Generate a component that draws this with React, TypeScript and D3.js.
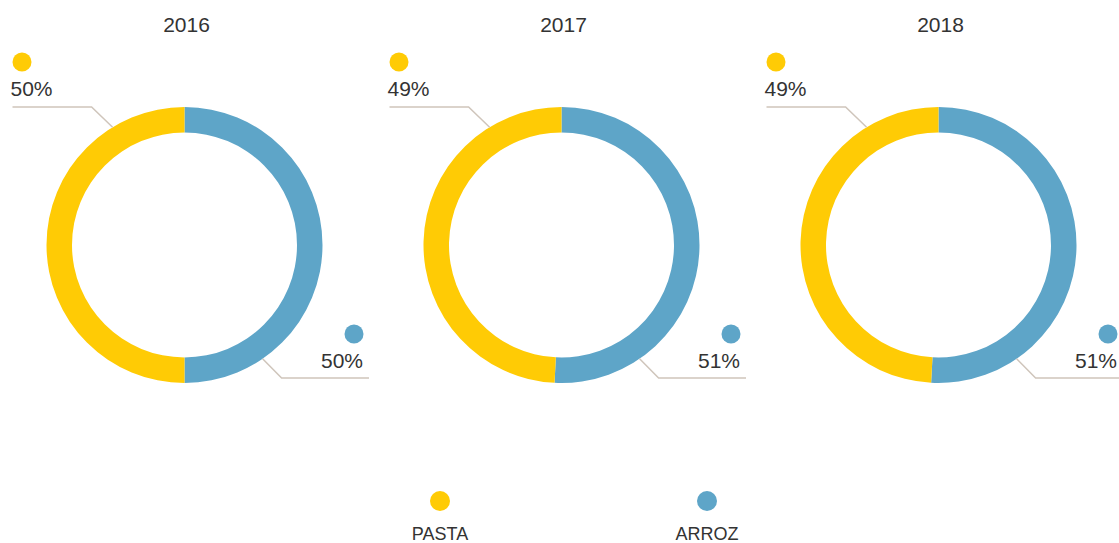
import React from "react";
import * as d3 from "d3";

const years = ["2016", "2017", "2018"];
const categories = ["ARROZ", "PASTA"];
const arrozValues = [50, 50.8, 50.85];
const pastaValues = [50, 49.2, 49.15];
const colors = { ARROZ: "#5ea5c8", PASTA: "#ffcb05" };

const W = 1119;
const H = 543;

export default function App() {
  const xCenter = d3.scalePoint<string>().domain(years).range([184.5, 938.5]);
  const cy = 245;
  const rOuter = 138;
  const rInner = 112.5;
  const arc = d3.arc<d3.PieArcDatum<number>>().innerRadius(rInner).outerRadius(rOuter);
  const pie = d3.pie<number>().sort(null);
  const legendX = d3.scalePoint<string>().domain(["PASTA", "ARROZ"]).range([440, 707]);
  const textColor = "#333333";
  const lineColor = "#cfc5bb";
  const font = "'Liberation Sans', Arial, Helvetica, sans-serif";

  // label anchor angles (radians clockwise from 12 o'clock)
  const pastaAnchor = -0.548;
  const arrozAnchor = 2.54;
  const pt = (a: number, r: number) => [Math.sin(a) * r, -Math.cos(a) * r];

  return (
    <svg width={W} height={H} style={{ position: "absolute", left: 0, top: 0, background: "#fff" }} fontFamily={font}>
      {years.map((y, i) => {
        const cx = xCenter(y)!;
        const arcs = pie([arrozValues[i], pastaValues[i]]);
        const pa = pt(pastaAnchor, rOuter);
        const aa = pt(arrozAnchor, rOuter);
        return (
          <g key={y}>
            <text x={cx + 2} y={32} textAnchor="middle" fontSize={21} fill={textColor}>{y}</text>
            <g transform={`translate(${cx},${cy})`}>
              {arcs.map((a, j) => (
                <path key={j} d={arc(a)!} fill={colors[categories[j] as "ARROZ" | "PASTA"]} />
              ))}
              {/* pasta label */}
              <polyline
                points={`${pa[0]},${pa[1]} ${pa[0] - 21},${-138} ${-172},${-138}`}
                fill="none" stroke={lineColor} strokeWidth={1.5}
              />
              <circle cx={-162.5} cy={-183} r={9.5} fill={colors.PASTA} />
              <text x={-174} y={-149} fontSize={21} fill={textColor}>{Math.round(pastaValues[i])}%</text>
              {/* arroz label */}
              <polyline
                points={`${aa[0]},${aa[1]} ${aa[0] + 19},${133} ${184.5},${133}`}
                fill="none" stroke={lineColor} strokeWidth={1.5}
              />
              <circle cx={169.5} cy={89} r={9.5} fill={colors.ARROZ} />
              <text x={178.5} y={123} textAnchor="end" fontSize={21} fill={textColor}>{Math.round(arrozValues[i])}%</text>
            </g>
          </g>
        );
      })}
      {["PASTA", "ARROZ"].map((c) => (
        <g key={c}>
          <circle cx={legendX(c)} cy={501} r={10} fill={colors[c as "ARROZ" | "PASTA"]} />
          <text x={legendX(c)} y={540} textAnchor="middle" fontSize={18} fill={textColor}>{c}</text>
        </g>
      ))}
    </svg>
  );
}
